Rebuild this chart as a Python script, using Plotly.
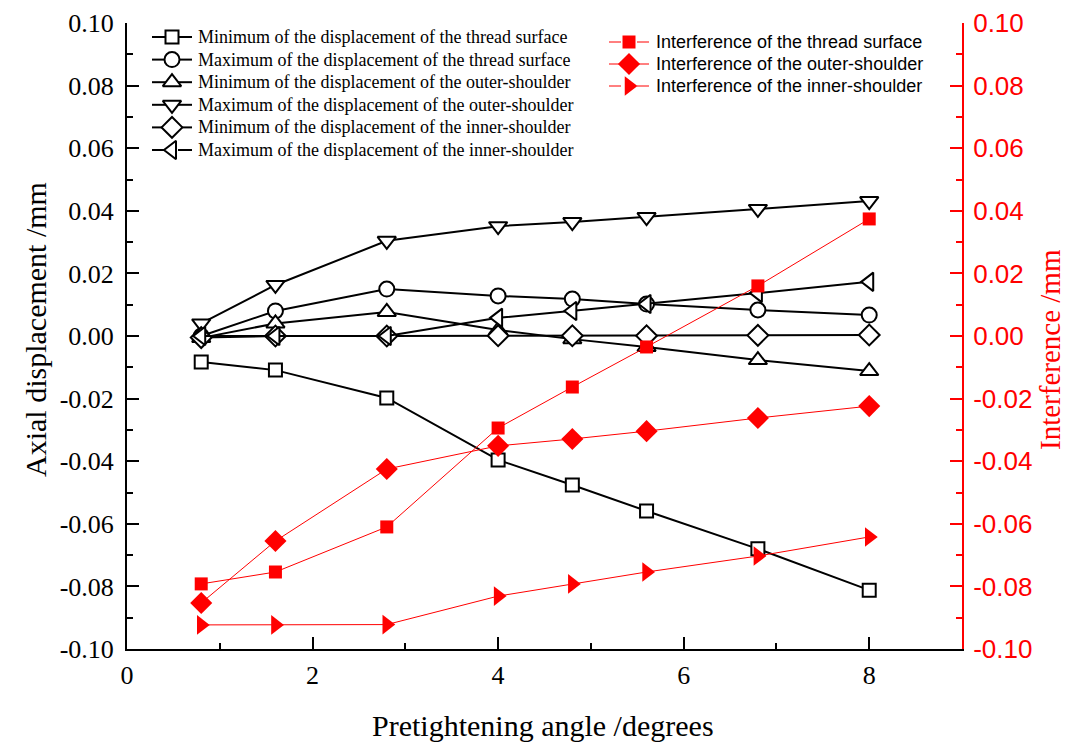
import plotly.graph_objects as go

angle = [0.8, 1.6, 2.8, 4.0, 4.8, 5.6, 6.8, 8.0]

min_thread = [-0.0083, -0.0109, -0.0198, -0.0396, -0.0476, -0.0559, -0.0680, -0.0812]
max_thread = [0.0000, 0.0080, 0.0150, 0.0128, 0.0118, 0.0102, 0.0083, 0.0067]
min_outer = [-0.0006, 0.0040, 0.0077, 0.0019, -0.0010, -0.0035, -0.0077, -0.0112]
max_outer = [0.0040, 0.0163, 0.0304, 0.0351, 0.0364, 0.0380, 0.0406, 0.0431]
min_inner = [-0.0005, 0.0000, 0.0000, 0.0001, 0.0001, 0.0001, 0.0002, 0.0003]
max_inner = [0.0000, 0.0000, 0.0000, 0.0058, 0.0080, 0.0102, 0.0137, 0.0173]

int_thread = [-0.0792, -0.0754, -0.0610, -0.0294, -0.0163, -0.0035, 0.0160, 0.0374]
int_outer = [-0.0853, -0.0655, -0.0425, -0.0351, -0.0329, -0.0304, -0.0262, -0.0224]
int_inner = [-0.0923, -0.0923, -0.0922, -0.0831, -0.0792, -0.0754, -0.0703, -0.0642]

x_tickvals = [0, 2, 4, 6, 8]
x_ticktext = ["0", "2", "4", "6", "8"]
y_tickvals = [-0.10, -0.08, -0.06, -0.04, -0.02, 0.00, 0.02, 0.04, 0.06, 0.08, 0.10]
y_ticktext = ["-0.10", "-0.08", "-0.06", "-0.04", "-0.02", "0.00", "0.02", "0.04", "0.06", "0.08", "0.10"]
y_minorvals = [-0.09, -0.07, -0.05, -0.03, -0.01, 0.01, 0.03, 0.05, 0.07, 0.09]

black_names = [
    "Minimum of the displacement of the thread surface",
    "Maximum of the displacement of the thread surface",
    "Minimum of the displacement of the outer-shoulder",
    "Maximum of the displacement of the outer-shoulder",
    "Minimum of the displacement of the inner-shoulder",
    "Maximum of the displacement of the inner-shoulder",
]
red_names = [
    "Interference of the thread surface",
    "Interference of the outer-shoulder",
    "Interference of the inner-shoulder",
]
black_values = [min_thread, max_thread, min_outer, max_outer, min_inner, max_inner]
red_values = [int_thread, int_outer, int_inner]

black_symbols = ["square", "circle", "triangle-up", "triangle-down", "diamond", "triangle-left"]
black_sizes = [13, 15, 16, 16, 16, 16]
red_symbols = ["square", "diamond", "triangle-right"]
red_sizes = [13, 17, 17]

# --- layout geometry (pixels) ---
W, H = 1069, 745
ML, MR, MT, MB = 127, 107, 23, 96
PW, PH = W - ML - MR, H - MT - MB


def px_x(px):
    return (px - ML) / PW


def px_y(py):
    return (H - MB - py) / PH


serif = "Liberation Serif"
sans = "Liberation Sans"

fig = go.Figure()
for name, vals, sym, sz in zip(black_names, black_values, black_symbols, black_sizes):
    fig.add_trace(go.Scatter(
        x=angle, y=vals, name=name, mode="lines+markers", showlegend=False,
        line=dict(color="black", width=2),
        marker=dict(symbol=sym, size=sz, color="white", line=dict(color="black", width=2)),
    ))
for name, vals, sym, sz in zip(red_names, red_values, red_symbols, red_sizes):
    fig.add_trace(go.Scatter(
        x=angle, y=vals, name=name, mode="lines+markers", yaxis="y2", showlegend=False,
        line=dict(color="red", width=1),
        marker=dict(symbol=sym, size=sz, color="red", line=dict(color="red", width=0)),
    ))

# --- legend keys drawn on a hidden overlay axis (paper-like coordinates) ---
annotations = []
left_rows = [37 + 22.6 * i for i in range(len(black_names))]
for name, sym, sz, ry in zip(black_names, black_symbols, black_sizes, left_rows):
    yy = px_y(ry)
    fig.add_trace(go.Scatter(
        x=[px_x(152), px_x(166), None, px_x(178), px_x(192)], y=[yy, yy, None, yy, yy],
        xaxis="x2", yaxis="y3", mode="lines", showlegend=False, hoverinfo="skip",
        line=dict(color="black", width=2),
    ))
    fig.add_trace(go.Scatter(
        x=[px_x(172)], y=[yy],
        xaxis="x2", yaxis="y3", mode="markers", showlegend=False, hoverinfo="skip",
        marker=dict(symbol=sym, size=sz, color="white", line=dict(color="black", width=2)),
    ))
    annotations.append(dict(text=name, xref="paper", yref="paper", x=px_x(196), y=yy,
                            xanchor="left", yanchor="middle", showarrow=False,
                            font=dict(family=serif, size=18, color="black")))
right_rows = [42 + 22 * i for i in range(len(red_names))]
for name, sym, sz, ry in zip(red_names, red_symbols, red_sizes, right_rows):
    yy = px_y(ry)
    fig.add_trace(go.Scatter(
        x=[px_x(609), px_x(621), None, px_x(637), px_x(649)], y=[yy, yy, None, yy, yy],
        xaxis="x2", yaxis="y3", mode="lines", showlegend=False, hoverinfo="skip",
        line=dict(color="red", width=1),
    ))
    fig.add_trace(go.Scatter(
        x=[px_x(629)], y=[yy],
        xaxis="x2", yaxis="y3", mode="markers", showlegend=False, hoverinfo="skip",
        marker=dict(symbol=sym, size=sz, color="red", line=dict(width=0)),
    ))
    annotations.append(dict(text=name, xref="paper", yref="paper", x=px_x(654), y=yy,
                            xanchor="left", yanchor="middle", showarrow=False,
                            font=dict(family=sans, size=18, color="black")))

annotations += [
    dict(text="Axial displacement /mm", xref="paper", yref="paper", x=px_x(35), y=px_y(330),
         textangle=-90, showarrow=False, xanchor="center", yanchor="middle",
         font=dict(family=serif, size=30, color="black")),
    dict(text="Interference /mm", xref="paper", yref="paper", x=px_x(1050), y=px_y(350),
         textangle=-90, showarrow=False, xanchor="center", yanchor="middle",
         font=dict(family=serif, size=29, color="red")),
    dict(text="Pretightening angle /degrees", xref="paper", yref="paper", x=px_x(543), y=px_y(725),
         showarrow=False, xanchor="center", yanchor="middle",
         font=dict(family=serif, size=30, color="black")),
]

fig.update_layout(
    width=W, height=H,
    margin=dict(l=ML, r=MR, t=MT, b=MB, autoexpand=False),
    paper_bgcolor="white", plot_bgcolor="white",
    showlegend=False,
    xaxis=dict(
        range=[0, 9], tickvals=x_tickvals, ticktext=x_ticktext,
        ticks="inside", ticklen=12, tickwidth=2, tickcolor="black",
        minor=dict(dtick=1, tick0=0, ticks="inside", ticklen=6, tickwidth=2, tickcolor="black", showgrid=False),
        showline=True, linecolor="black", linewidth=2, showgrid=False, zeroline=False,
        tickfont=dict(family=serif, size=26, color="black"),
        ticklabelstandoff=2,
    ),
    xaxis2=dict(range=[0, 1], overlaying="x", visible=False, fixedrange=True),
    yaxis=dict(
        range=[-0.1, 0.1], tickvals=y_tickvals, ticktext=y_ticktext,
        ticks="inside", ticklen=12, tickwidth=2, tickcolor="black",
        minor=dict(tickvals=y_minorvals,
                   ticks="inside", ticklen=6, tickwidth=2, tickcolor="black", showgrid=False),
        showline=True, linecolor="black", linewidth=2, showgrid=False, zeroline=False,
        tickfont=dict(family=serif, size=26, color="black"),
        ticklabelstandoff=6,
    ),
    yaxis2=dict(
        range=[-0.1, 0.1], tickvals=y_tickvals, ticktext=y_ticktext,
        overlaying="y", side="right",
        ticks="inside", ticklen=12, tickwidth=2, tickcolor="red",
        minor=dict(tickvals=y_minorvals,
                   ticks="inside", ticklen=6, tickwidth=2, tickcolor="red", showgrid=False),
        showline=True, linecolor="red", linewidth=2, showgrid=False, zeroline=False,
        tickfont=dict(family=sans, size=26, color="red"),
        ticklabelstandoff=4,
    ),
    yaxis3=dict(range=[0, 1], overlaying="y", visible=False, fixedrange=True),
    annotations=annotations,
)

fig.write_html("out.html")
